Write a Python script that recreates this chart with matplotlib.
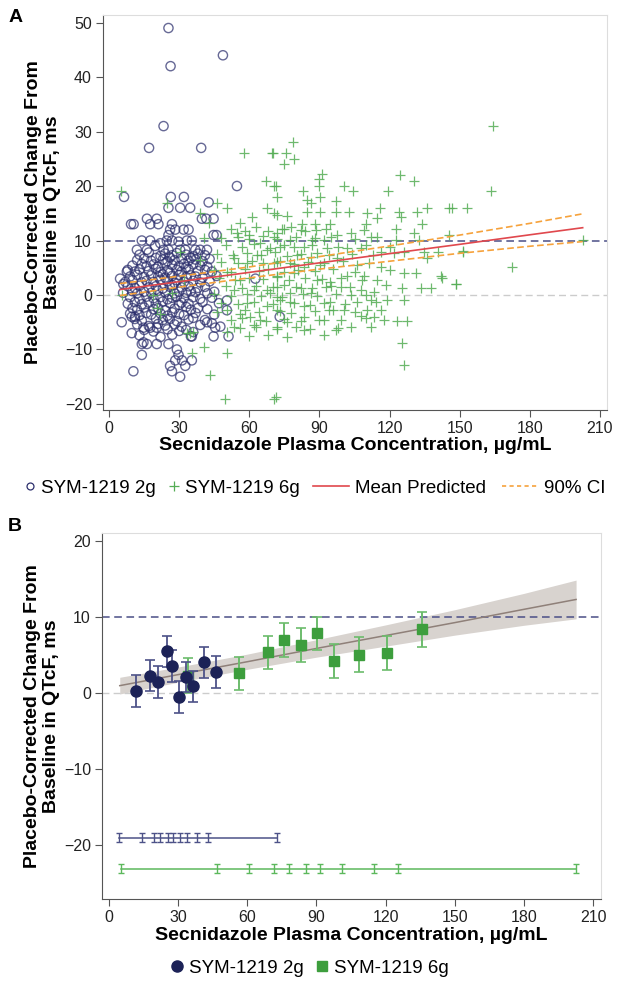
import matplotlib
matplotlib.use('Agg')
import matplotlib.pyplot as plt
from matplotlib.lines import Line2D

plt.rcParams['font.family'] = ['Liberation Sans', 'DejaVu Sans']

# painel A - pontos individuais (concentração, delta QTcF)
pts_2g = [
    (25.4, 49), (48.7, 44), (26.3, 42), (23.3, 31), (17.1, 27), (39.4, 27), (54.7, 20),
    (6.4, 18), (26.4, 18), (32.0, 18), (42.6, 17), (25.4, 16), (30.4, 16), (34.7, 16),
    (16.2, 14), (20.4, 14), (39.7, 14), (41.6, 14), (44.7, 14), (9.4, 13), (10.5, 13),
    (17.6, 13), (21.1, 13), (26.9, 13), (26.1, 12), (28.3, 12), (31.9, 12), (34.0, 12),
    (44.7, 11), (46.0, 11), (25.4, 11), (14.0, 10), (17.6, 10), (24.7, 10), (26.9, 10),
    (33.3, 10), (35.4, 10), (21.9, 9.5), (29.7, 9.8), (19.7, 9), (11.9, 8.3), (16.2, 8.3),
    (23.3, 8.3), (25.4, 8.3), (30.4, 8.3), (32.6, 8.3), (36.9, 8.3), (39.0, 8.3), (41.9, 8.3),
    (5.4, -5), (9.7, -7), (14.7, -6), (17.6, -6), (20.4, -6), (14, -9), (16.2, -9),
    (20.4, -9), (25.4, -9), (14, -11), (29, -10), (29.7, -11), (28.3, -12), (31.2, -12),
    (32.6, -13), (35.4, -12), (26.1, -13), (26.9, -14), (30.4, -15), (10.4, -14),
    (35.4, -7.6), (44.7, -7.6), (45.4, -6), (41.9, -5), (50.4, -1), (62.6, 3), (73, -4),
    (4.7, 3), (7.6, 4.3), (6.1, 2), (9.7, -4), (11.1, -4), (51.1, -7.6), (50.4, -2.8),
    (47.6, -5.8), (14.7, -8.7),
    (13, 7.4), (17, 7.8), (22, 7.2), (24, 7.6), (27, 7.3), (29, 7.7), (33, 7.4), (36, 7.1),
    (38, 7.6), (41, 7.3),
    (12, 6.4), (15, 6.7), (18, 6.3), (20, 6.8), (23, 6.5), (25, 6.2), (26, 6.9), (28, 6.4),
    (31, 6.6), (34, 6.3), (35, 6.8), (37, 6.5), (40, 6.2), (43, 6.6),
    (10, 5.4), (14, 5.7), (16, 5.3), (19, 5.6), (21, 5.2), (24, 5.8), (27, 5.5), (30, 5.3),
    (32, 5.7), (33, 5.1), (36, 5.6), (39, 5.4), (42, 5.2),
    (8, 4.6), (11, 4.3), (13, 4.7), (17, 4.4), (20, 4.8), (22, 4.2), (25, 4.5), (26, 4.1),
    (29, 4.6), (31, 4.3), (34, 4.7), (38, 4.4), (41, 4.6), (44, 4.3),
    (9, 3.4), (12, 3.7), (15, 3.3), (18, 3.6), (21, 3.4), (23, 3.8), (24, 3.2), (27, 3.5),
    (30, 3.7), (33, 3.3), (35, 3.6), (37, 3.4), (40, 3.2), (46, 3.5),
    (7, 2.4), (10, 2.7), (14, 2.3), (16, 2.6), (19, 2.4), (22, 2.8), (25, 2.5), (28, 2.2),
    (29, 2.7), (32, 2.4), (36, 2.6), (39, 2.3), (43, 2.5),
    (8, 1.6), (11, 1.3), (13, 1.7), (17, 1.4), (20, 1.6), (23, 1.2), (26, 1.5), (27, 1.8),
    (31, 1.4), (34, 1.6), (38, 1.3), (41, 1.5),
    (6, 0.4), (10, 0.7), (12, 0.3), (15, 0.6), (18, 0.4), (21, 0.8), (24, 0.5), (28, 0.3),
    (30, 0.6), (33, 0.4), (35, 0.7), (37, 0.5), (42, 0.3), (45, 0.6),
    (9, -0.4), (13, -0.7), (16, -0.3), (19, -0.6), (22, -0.4), (25, -0.8), (27, -0.5),
    (29, -0.3), (32, -0.6), (36, -0.4), (39, -0.7), (44, -0.5),
    (8, -1.6), (11, -1.3), (14, -1.7), (17, -1.4), (20, -1.6), (23, -1.2), (26, -1.5),
    (30, -1.8), (31, -1.4), (34, -1.6), (40, -1.3), (47, -1.5),
    (10, -2.4), (12, -2.7), (15, -2.3), (19, -2.6), (21, -2.4), (24, -2.8), (28, -2.5),
    (33, -2.2), (35, -2.7), (38, -2.4), (42, -2.6),
    (9, -3.4), (13, -3.7), (16, -3.3), (18, -3.6), (22, -3.4), (25, -3.8), (27, -3.2),
    (30, -3.5), (32, -3.7), (37, -3.3), (45, -3.6),
    (11, -4.4), (14, -4.7), (20, -4.3), (23, -4.6), (26, -4.4), (29, -4.8), (34, -4.5),
    (36, -4.2), (41, -4.6),
    (12, -5.4), (17, -5.7), (21, -5.3), (24, -5.6), (28, -5.4), (31, -5.8), (39, -5.5),
    (44, -5.2),
    (15, -6.4), (19, -6.7), (25, -6.3), (30, -6.6), (33, -6.4), (36, -6.8),
    (13, -7.4), (22, -7.7), (27, -7.3), (35, -7.6),
]

pts_6g = [
    (5.1, 19), (57.9, 26), (69.7, 26), (67.2, 21), (70.4, 20), (78.6, 28), (70.2, 26),
    (75.7, 26), (79.3, 25), (74.7, 24), (90.9, 22.2), (89.7, 21.3), (124.3, 22), (130.4, 21),
    (71.2, 20), (100.4, 20), (89.7, 20), (104.3, 19.1), (119.3, 19.1), (82.9, 19.1),
    (71.9, 17.9), (90.4, 17.9), (84.7, 17.4), (96.9, 17.3), (86.2, 16.8), (116.1, 16),
    (136.2, 16), (145.4, 16), (153.3, 16), (84.7, 15.2), (90.4, 15.2), (96.9, 15.2),
    (102.6, 15.2), (124, 15.2), (131.9, 15.2), (110.5, 15), (71.9, 14.7), (76.2, 14.5),
    (114.7, 14.1), (82.6, 13), (88.3, 13), (94.7, 13), (109.7, 13), (124.7, 14.3), (134, 13),
    (74.7, 12.2), (81.9, 11.9), (88.7, 11.9), (103.3, 11.3), (109, 11.9), (122.6, 12.2),
    (130.4, 11.3), (97.6, 11), (70.4, 10.7), (77.6, 10.1), (86.9, 10.1), (91.9, 10.1),
    (132.6, 10.1), (114.7, 10.7), (122.6, 10.1), (73.3, 8.9), (83.3, 8.9), (93.3, 8.6),
    (101.9, 8.6), (107.6, 8.6), (116.2, 7.9), (126.1, 7.9), (134.7, 7.9), (140.5, 7.9),
    (151.2, 7.9), (136.2, 6.7), (80.5, 7.3), (86.2, 7), (97.6, 6.7), (71.9, 6.1), (77.6, 5.8),
    (90.4, 5.5), (106.2, 5.5), (116.2, 5.2), (83.3, 5.2), (126.1, 4), (131.2, 4),
    (141.9, 3.4), (148.3, 2.1), (71.9, 3.4), (79, 4), (89, 2.8), (94.7, 2.4), (101.9, 3.4),
    (109, 3.4), (114.7, 2.8), (118.3, 1.8), (125.4, 1.2), (133.3, 1.2), (137.6, 1.2),
    (71.9, 1.5), (81.9, 1.2), (92.6, 1.5), (99, 1.5), (107.6, 0.9), (113.3, 0.6),
    (77.6, 0.3), (86.2, 0.3), (103.3, 0), (73.3, -0.9), (77.6, -1.2), (94.7, -1.2),
    (106.2, -1.2), (111.9, -0.9), (119, -0.9), (126.1, -0.9), (83.3, -2.1), (100.4, -2.8),
    (110.5, -2.8), (116.2, -2.8), (71.9, -2.8), (94, -2.8), (83.3, -4), (91.9, -4.6),
    (99, -4.6), (107.6, -3.9), (113.3, -4), (117.6, -4.6), (123.3, -4.7), (127.6, -4.7),
    (76.2, -4.9), (83.3, -6.4), (96.9, -6.4), (103.3, -5.8), (111.9, -5.8), (125.4, -8.9),
    (126.1, -12.8), (71.2, -18.7),
    (164.4, 31), (163.3, 19), (146.6, 16), (145.4, 11.1), (151.2, 8.1), (142.6, 3.1),
    (148.3, 2.1), (172.3, 5.1), (202.6, 10.1),
    (46.2, 16.9), (50.4, 15.9), (39, 15), (42.6, 13.2), (56.1, 13.2), (61.2, 14.4), (70.4, 15),
    (67.6, 15.9), (54.7, 11.3), (59.7, 11), (64.7, 9.5), (67.6, 8.3), (71.9, 11.3),
    (53.3, 6.7), (59, 5.8), (63.3, 7.3), (70.4, 5.8), (50.4, 4.3), (56.1, 2.8), (67.6, 0.9),
    (53.3, 0.9), (61.9, 0.9), (71.9, -0.3), (59, -1.5), (67.6, -2.1), (50.4, -2.8),
    (56.1, -3.4), (60.4, -4), (64.7, -4.6), (71.9, -5.8), (53.3, -5.8), (61.9, -5.5),
    (50.4, -6.7), (36.1, -6.7), (33.3, -7), (40.4, -9.5), (50.4, -10.7), (35.4, -10.7),
    (43.3, -14.7), (49.7, -19), (70.4, -19),
    (24.7, 16.8), (19, 0), (21.9, -3.4), (26.9, 0.3), (31.9, 2.8), (34.7, -7), (39, 6.4),
    (40.4, 10.4), (30.4, 7.9), (5.4, 0), (20.4, -2.4),
    (52, 12.2), (58, 11.8), (63, 12.4), (68, 11.7), (74, 12.1), (78, 12.5), (84, 11.8), (93, 12.2),
    (48, 10.4), (55, 10.7), (60, 10.3), (66, 10.8), (72, 10.2), (80, 10.6), (88, 10.4),
    (95, 10.7), (105, 10.3), (112, 10.6),
    (50, 9.1), (57, 8.8), (62, 9.3), (69, 8.7), (75, 9.2), (79, 8.9), (87, 9.1), (98, 8.8),
    (110, 9.2), (120, 8.9),
    (46, 7.6), (53, 7.3), (59, 7.7), (65, 7.4), (71, 7.8), (76, 7.2), (82, 7.5), (89, 7.7),
    (94, 7.3), (104, 7.6), (113, 7.4), (122, 7.7),
    (48, 6.1), (55, 5.8), (61, 6.2), (66, 5.9), (73, 6.3), (79, 5.7), (85, 6.1), (92, 5.9),
    (100, 6.2), (111, 5.8),
    (45, 4.6), (52, 4.3), (58, 4.7), (64, 4.4), (68, 4.8), (75, 4.2), (81, 4.6), (88, 4.4),
    (96, 4.7), (105, 4.3), (120, 4.6),
    (47, 3.1), (54, 2.8), (60, 3.2), (66, 2.9), (72, 3.3), (77, 2.7), (84, 3.1), (91, 2.9),
    (99, 3.2), (108, 2.8),
    (50, 1.6), (57, 1.3), (63, 1.7), (70, 1.4), (75, 1.8), (80, 1.5), (87, 1.3), (95, 1.7),
    (103, 1.4),
    (45, 0.1), (52, -0.2), (59, 0.2), (65, -0.1), (69, 0.3), (74, -0.3), (83, 0.1), (89, -0.2),
    (97, 0.2), (110, 0),
    (48, -1.4), (55, -1.7), (62, -1.3), (70, -1.6), (79, -1.5), (86, -1.8), (92, -1.4),
    (101, -1.6), (114, -1.3),
    (46, -3.1), (58, -2.8), (64, -3.2), (73, -2.9), (78, -3.3), (88, -3.0), (96, -2.8),
    (105, -3.2),
    (52, -4.6), (57, -4.3), (67, -4.7), (75, -4.4), (82, -4.8), (90, -4.5), (110, -4.3),
    (56, -6.1), (63, -5.8), (72, -6.2), (80, -5.9), (86, -6.3), (98, -6.0),
    (60, -7.6), (68, -7.3), (76, -7.7), (92, -7.4),
]

# modelo (linha média e IC 90%)
pred_conc = [4.7, 30, 60, 90, 120, 150, 180, 202.6]
pred_mean = [1.0, 2.45, 4.15, 5.9, 7.6, 9.3, 11.05, 12.35]
pred_lo = [-0.1, 1.45, 3.15, 4.75, 6.2, 7.65, 8.95, 9.8]
pred_hi = [2.1, 3.45, 5.15, 7.05, 9.0, 11.0, 13.15, 14.9]

# painel B - médias por decil de concentração
bin_conc_2g = [11.7, 17.8, 21.1, 25.0, 27.3, 30.2, 33.3, 36.3, 41.4, 46.3]
bin_mean_2g = [0.3, 2.3, 1.5, 5.5, 3.55, -0.5, 2.1, 0.9, 4.1, 2.8]
bin_err_2g = [2.1, 2.05, 2.1, 2.0, 2.1, 2.05, 1.95, 2.05, 2.05, 2.05]
bin_conc_6g = [34.4, 56.4, 68.8, 75.8, 83.2, 90.1, 97.8, 108.6, 120.6, 135.9]
bin_mean_6g = [2.3, 2.6, 5.4, 7.05, 6.3, 7.9, 4.25, 5.1, 5.3, 8.45]
bin_err_6g = [2.3, 2.2, 2.2, 2.25, 2.25, 2.2, 2.2, 2.25, 2.2, 2.3]
edges_2g = [4.3, 14.2, 19.5, 22.1, 25.7, 27.9, 30.8, 33.7, 38.0, 43.1, 72.8]
edges_6g = [5.2, 46.9, 60.7, 71.4, 78.1, 85.3, 91.7, 101.2, 114.8, 125.4, 202.5]

x_ticks = [0, 30, 60, 90, 120, 150, 180, 210]
ylabel = 'Placebo-Corrected Change From\nBaseline in QTcF, ms'
xlabel = 'Secnidazole Plasma Concentration, \u00b5g/mL'

navy = '#2c2f6d'
green = '#55ad55'
red = '#e0484d'
orange = '#f6a23c'


def estilo_eixo(ax):
    for s in ['left', 'bottom']:
        ax.spines[s].set_color('#555555')
    for s in ['top', 'right']:
        ax.spines[s].set_color('#dddddd')
    ax.tick_params(direction='out', length=5, color='#555555', labelsize=11.5,
                   labelcolor='#222222', pad=3)
    ax.set_xticks(x_ticks)
    ax.set_xlabel(xlabel, fontsize=14, fontweight='bold', labelpad=1)
    ax.set_ylabel(ylabel, fontsize=14, fontweight='bold', labelpad=3, linespacing=1.1)
    ax.axhline(0, color='#cccccc', lw=1, ls=(0, (5, 3)), zorder=1)
    ax.axhline(10, color='#4a4e86', lw=1.1, ls=(0, (5, 3)), zorder=1)


fig = plt.figure(figsize=(6.19, 9.9), dpi=100)

# ---------- painel A ----------
axA = fig.add_axes([0.1664, 0.5859, 0.8142, 0.3990])
c2, v2 = zip(*pts_2g)
c6, v6 = zip(*pts_6g)
axA.scatter(c2, v2, s=44, facecolors='none', edgecolors=navy, linewidths=1.0,
            alpha=0.72, zorder=2)
axA.scatter(c6, v6, s=52, marker='+', color=green, linewidths=0.9, alpha=0.85, zorder=3)
axA.plot(pred_conc, pred_mean, color=red, lw=1.2, zorder=4)
axA.plot(pred_conc, pred_lo, color=orange, lw=1.2, ls=(0, (4, 2)), zorder=4)
axA.plot(pred_conc, pred_hi, color=orange, lw=1.2, ls=(0, (4, 2)), zorder=4)
axA.set_xlim(-2.6, 213)
axA.set_ylim(-21.1, 51.4)
axA.set_yticks([-20, -10, 0, 10, 20, 30, 40, 50])
estilo_eixo(axA)

# legenda A em duas partes (marcadores com alça curta, linhas com alça longa)
hA1 = [Line2D([], [], ls='none', marker='o', mfc='none', mec=navy, ms=5, mew=0.9),
       Line2D([], [], ls='none', marker='+', color=green, ms=7, mew=0.9)]
hA2 = [Line2D([], [], color=red, lw=1.2),
       Line2D([], [], color=orange, lw=1.2, ls=(0, (2.5, 2)))]
fig.legend(hA1, ['SYM-1219 2g', 'SYM-1219 6g'], loc='center left',
           bbox_to_anchor=(0.018, 0.507), ncol=2, frameon=False, fontsize=13.5,
           handlelength=0.6, handletextpad=0.3, columnspacing=0.67, borderpad=0.2)
fig.legend(hA2, ['Mean Predicted', '90% CI'], loc='center left',
           bbox_to_anchor=(0.484, 0.507), ncol=2, frameon=False, fontsize=13.5,
           handlelength=1.92, handletextpad=0.32, columnspacing=0.85, borderpad=0.2)

# ---------- painel B ----------
axB = fig.add_axes([0.1648, 0.0919, 0.8061, 0.3697])
axB.fill_between(pred_conc, pred_lo, pred_hi, color='#d8d3cf', lw=0, zorder=1)
axB.plot(pred_conc, pred_mean, color='#8f8079', lw=1.1, zorder=2)
axB.errorbar(bin_conc_6g, bin_mean_6g, yerr=bin_err_6g, fmt='s', ms=6.5, color='#3d9e3d',
             ecolor='#6cbc6c', elinewidth=1.4, capsize=3.5, capthick=1.2, zorder=3)
axB.errorbar(bin_conc_2g, bin_mean_2g, yerr=bin_err_2g, fmt='o', ms=8, color='#1c2257',
             ecolor='#4d5288', elinewidth=1.3, capsize=3.5, capthick=1.2, zorder=4)
axB.plot([edges_2g[0], edges_2g[-1]], [-19, -19], color='#4d5288', lw=1.1)
axB.errorbar(edges_2g, [-19] * len(edges_2g), yerr=0.55, fmt='none', ecolor='#4d5288',
             elinewidth=1, capsize=2, capthick=1)
axB.plot([edges_6g[0], edges_6g[-1]], [-23.1, -23.1], color='#5cb85c', lw=1.1)
axB.errorbar(edges_6g, [-23.1] * len(edges_6g), yerr=0.55, fmt='none', ecolor='#5cb85c',
             elinewidth=1, capsize=2, capthick=1)
axB.set_xlim(-3, 213.4)
axB.set_ylim(-27.1, 21.1)
axB.set_yticks([-20, -10, 0, 10, 20])
estilo_eixo(axB)

hB = [Line2D([], [], ls='none', marker='o', color='#1c2257', ms=8),
      Line2D([], [], ls='none', marker='s', color='#3d9e3d', ms=6.5)]
fig.legend(hB, ['SYM-1219 2g', 'SYM-1219 6g'], loc='center', bbox_to_anchor=(0.5, 0.022),
           ncol=2, frameon=False, fontsize=13.5, handlelength=0.7, handletextpad=0.3,
           columnspacing=0.6)

fig.text(0.013, 0.982, 'A', fontsize=14, fontweight='bold', va='center')
fig.text(0.013, 0.468, 'B', fontsize=14, fontweight='bold', va='center')

fig.savefig('out.png', dpi=100)
